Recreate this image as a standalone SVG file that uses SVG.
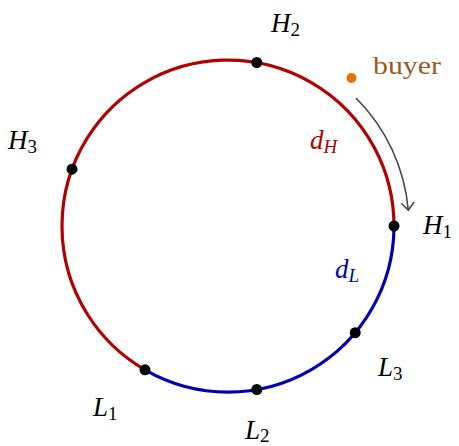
<svg xmlns="http://www.w3.org/2000/svg" width="459" height="446" viewBox="0 0 459 446">
<style>
.lbl{font-family:"Liberation Serif","DejaVu Serif",serif;font-size:27px;font-style:italic;fill:#000}
.sub{font-size:19px;font-style:normal}
.isub{font-size:19px;font-style:italic}
.dot{fill:#000}
</style>
<defs>
<marker id="to" markerUnits="userSpaceOnUse" markerWidth="16" markerHeight="16" viewBox="-10 -8 12 16" refX="0" refY="0" orient="auto">
<path d="M -7 -6 Q -2 -1.5 0 0 Q -2 1.5 -7 6" fill="none" stroke="#454545" stroke-width="1.6" stroke-linecap="round"/>
</marker>
</defs>
<g id="connectors">
<path id="arc-high" d="M 394 226 A 166 166 0 1 0 145 369.8" fill="none" stroke="#b30000" stroke-width="3.2"/>
<path id="arc-low" d="M 145 369.8 A 166 166 0 0 0 394 226" fill="none" stroke="#0000b3" stroke-width="3.2"/>
<path id="buyer-arrow" d="M 356 98 A 181 181 0 0 1 408.3 210.2" fill="none" stroke="#454545" stroke-width="1.6" marker-end="url(#to)"/>
</g>
<g id="H1"><circle class="dot" cx="394" cy="226" r="5.5"/><text class="lbl" x="423" y="234">H<tspan class="sub" dy="4">1</tspan></text></g>
<g id="H2"><circle class="dot" cx="256.8" cy="62.5" r="5.5"/><text class="lbl" x="271" y="32">H<tspan class="sub" dy="4">2</tspan></text></g>
<g id="H3"><circle class="dot" cx="72" cy="169.2" r="5.5"/><text class="lbl" x="8" y="149">H<tspan class="sub" dy="4">3</tspan></text></g>
<g id="L1"><circle class="dot" cx="145" cy="369.8" r="5.5"/><text class="lbl" x="93" y="416">L<tspan class="sub" dy="4">1</tspan></text></g>
<g id="L2"><circle class="dot" cx="256.8" cy="389.5" r="5.5"/><text class="lbl" x="245" y="439">L<tspan class="sub" dy="3">2</tspan></text></g>
<g id="L3"><circle class="dot" cx="355.2" cy="332.7" r="5.5"/><text class="lbl" x="378" y="376">L<tspan class="sub" dy="4">3</tspan></text></g>
<g id="buyer"><circle cx="351.5" cy="78" r="5" fill="#e67300"/><text x="373" y="74" font-family="Liberation Serif, DejaVu Serif, serif" font-size="26" fill="#9c5a1c" textLength="68" lengthAdjust="spacingAndGlyphs">buyer</text></g>
<g id="dH"><text class="lbl" x="310" y="149" style="fill:#b30000">d<tspan class="isub" dy="4">H</tspan></text></g>
<g id="dL"><text class="lbl" x="335" y="278" style="fill:#0000b3">d<tspan class="isub" dy="4">L</tspan></text></g>
</svg>
